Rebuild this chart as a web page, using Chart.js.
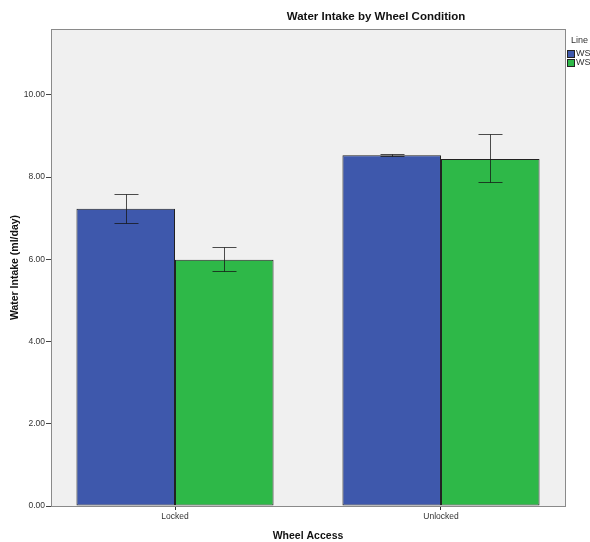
<!DOCTYPE html>
<html>
<head>
<meta charset="utf-8">
<script src="https://cdn.jsdelivr.net/npm/chart.js@4/dist/chart.umd.min.js"></script>
<style>
  html, body { margin: 0; padding: 0; background: #fff; }
  #wrap { width: 590px; height: 542px; position: relative; }
</style>
</head>
<body>
<div id="wrap"><canvas id="c" width="590" height="542"></canvas></div>
<script>
const categories = ["Locked", "Unlocked"];
const seriesNames = ["WSP-High", "WSP-Low"];
const blueValues = [7.23, 8.53];
const greenValues = [5.99, 8.44];
const blueErrLow = [6.89, 8.52];
const blueErrHigh = [7.58, 8.55];
const greenErrLow = [5.72, 7.89];
const greenErrHigh = [6.29, 9.05];
const yTicks = [0, 2, 4, 6, 8, 10];

const FONT = "'Liberation Sans', Arial, sans-serif";

const errorBars = [
  { low: blueErrLow, high: blueErrHigh },
  { low: greenErrLow, high: greenErrHigh }
];

const bgPlugin = {
  id: 'bg',
  beforeDraw(chart) {
    const { ctx, chartArea: a } = chart;
    ctx.save();
    ctx.fillStyle = '#f0f0f0';
    ctx.fillRect(a.left, a.top, a.right - a.left, a.bottom - a.top);
    ctx.restore();
  },
  afterDraw(chart) {
    const { ctx, chartArea: a } = chart;
    ctx.save();
    ctx.strokeStyle = '#8a8a8a';
    ctx.lineWidth = 1;
    ctx.strokeRect(Math.round(a.left) + 0.5, Math.round(a.top) + 0.5, a.right - a.left, a.bottom - a.top);
    // title
    ctx.fillStyle = '#111';
    ctx.font = "bold 11.5px " + FONT;
    ctx.textAlign = 'center';
    ctx.textBaseline = 'middle';
    ctx.fillText('Water Intake by Wheel Condition', 376, 17);
    // legend
    ctx.font = "9px " + FONT;
    ctx.textAlign = 'left';
    ctx.fillStyle = '#333';
    ctx.fillText('Line', 571, 41);
    chart.data.datasets.forEach((ds, i) => {
      const y = 50 + i * 9;
      ctx.fillStyle = ds.backgroundColor;
      ctx.fillRect(567, y, 7, 7);
      ctx.strokeStyle = '#222';
      ctx.strokeRect(567.5, y + 0.5, 7, 7);
      ctx.fillStyle = '#333';
      ctx.fillText(ds.label, 576, y + 4);
    });
    ctx.restore();
  }
};

const errPlugin = {
  id: 'err',
  afterDatasetsDraw(chart) {
    const { ctx } = chart;
    const yScale = chart.scales.y;
    ctx.save();
    ctx.strokeStyle = 'rgba(20,20,20,0.75)';
    ctx.lineWidth = 1;
    chart.data.datasets.forEach((ds, di) => {
      const meta = chart.getDatasetMeta(di);
      meta.data.forEach((bar, i) => {
        const x = Math.round(bar.x) + 0.5;
        const yl = Math.round(yScale.getPixelForValue(errorBars[di].low[i])) + 0.5;
        const yh = Math.round(yScale.getPixelForValue(errorBars[di].high[i])) + 0.5;
        const hw = 12;
        ctx.beginPath();
        ctx.moveTo(x, yl); ctx.lineTo(x, yh);
        ctx.moveTo(x - hw, yl); ctx.lineTo(x + hw, yl);
        ctx.moveTo(x - hw, yh); ctx.lineTo(x + hw, yh);
        ctx.stroke();
      });
    });
    ctx.restore();
  }
};

new Chart(document.getElementById('c'), {
  type: 'bar',
  data: {
    datasets: [
      {
        label: seriesNames[0],
        data: categories.map((c, i) => ({ x: i, y: blueValues[i] })),
        backgroundColor: '#3e58ac',
        borderColor: '#222',
        borderWidth: 1,
        borderSkipped: false
      },
      {
        label: seriesNames[1],
        data: categories.map((c, i) => ({ x: i, y: greenValues[i] })),
        backgroundColor: '#2eb848',
        borderColor: '#222',
        borderWidth: 1,
        borderSkipped: false
      }
    ]
  },
  options: {
    responsive: false,
    animation: false,
    devicePixelRatio: 1,
    categoryPercentage: 0.741,
    barPercentage: 1,
    layout: { padding: { top: 29, right: 25, left: 9, bottom: 0 } },
    plugins: {
      legend: { display: false },
      title: { display: false },
      tooltip: { enabled: false }
    },
    scales: {
      x: {
        type: 'linear',
        min: -0.4662,
        max: 1.4662,
        offset: false,
        afterBuildTicks(scale) { scale.ticks = categories.map((c, i) => ({ value: i })); },
        afterFit(scale) { scale.height = 36; },
        ticks: {
          autoSkip: false,
          maxRotation: 0,
          padding: 2,
          color: '#333',
          font: { family: FONT, size: 8.5 },
          callback: (v) => categories[v]
        },
        grid: { drawOnChartArea: false, offset: false, tickLength: 4, tickColor: '#333', color: '#333', lineWidth: 1 },
        border: { display: true, color: '#8a8a8a' },
        title: {
          display: true,
          text: 'Wheel Access',
          color: '#111',
          font: { family: FONT, size: 10.5, weight: 'bold' },
          padding: { top: 3, bottom: 0 }
        }
      },
      y: {
        min: 0,
        max: 11.6,
        afterBuildTicks(scale) { scale.ticks = yTicks.map(v => ({ value: v })); },
        afterFit(scale) { scale.width = 42; },
        ticks: {
          includeBounds: false,
          padding: 1,
          color: '#333',
          font: { family: FONT, size: 8.5 },
          callback: (v) => Number(v).toFixed(2)
        },
        grid: { drawOnChartArea: false, offset: false, tickLength: 5, color: '#444' },
        border: { display: true, color: '#8a8a8a' },
        title: {
          display: true,
          text: 'Water Intake (ml/day)',
          color: '#111',
          font: { family: FONT, size: 10.5, weight: 'bold' },
          padding: { top: 0, bottom: 2 }
        }
      }
    }
  },
  plugins: [bgPlugin, errPlugin]
});
</script>
</body>
</html>
